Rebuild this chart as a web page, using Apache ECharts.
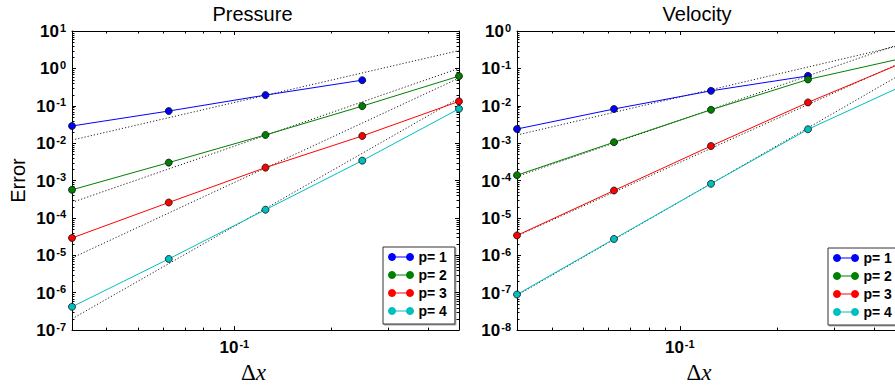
<!DOCTYPE html>
<html><head><meta charset="utf-8">
<script src="https://cdn.jsdelivr.net/npm/echarts@6/dist/echarts.min.js"></script>
<style>html,body{margin:0;padding:0;background:#fff;overflow:hidden;width:895px;height:389px}#c{width:912px;height:389px}</style>
</head><body><div id="c"></div>
<script>
// ---------- data ----------
const dx = [0.03125, 0.0625, 0.125, 0.25, 0.5];
const seriesNames = ['p= 1', 'p= 2', 'p= 3', 'p= 4'];
const colors = ['#0000ff', '#008000', '#ff0000', '#00bfbf'];

const pressureP1 = [0.0288, 0.0723, 0.193, 0.484, null];
const pressureP2 = [5.65e-4, 3.02e-3, 0.0166, 0.098, 0.62];
const pressureP3 = [2.91e-5, 2.59e-4, 2.22e-3, 0.0156, 0.131];
const pressureP4 = [4.2e-7, 8.0e-6, 1.66e-4, 3.41e-3, 0.083];
// reference (dotted) lines: value at smallest dx, value at largest dx
const pressureRefStart = [0.0121, 2.6e-4, 8.5e-6, 2.0e-7];
const pressureRefEnd   = [3.0, 1.0, 0.55, 0.16];

const velocityP1 = [2.39e-3, 8.2e-3, 0.0251, 0.063, null];
const velocityP2 = [1.39e-4, 1.06e-3, 7.8e-3, 0.0506, 0.193];
const velocityP3 = [3.41e-6, 5.41e-5, 8.4e-4, 0.0123, 0.15];
const velocityP4 = [8.95e-8, 2.74e-6, 8.2e-5, 2.35e-3, 0.0365];
const velocityRefStart = [1.65e-3, 1.28e-4, 3.3e-6, 8.5e-8];
const velocityRefEnd   = [0.44, 0.5, 0.16, 0.08];

// tick labels (exponents of 10)
const xTickExps = [-1];
const pressureYTickExps = [-7, -6, -5, -4, -3, -2, -1, 0, 1];
const velocityYTickExps = [-8, -7, -6, -5, -4, -3, -2, -1, 0];
const xMinorTicks = [0.04, 0.05, 0.06, 0.07, 0.08, 0.09, 0.2, 0.3, 0.4];

// ---------- helpers ----------
const FONT = 'Liberation Sans, Arial, sans-serif';
const SERIF = 'Liberation Serif, Times New Roman, serif';
const labelRich = {
  b: {fontSize: 17, fontWeight: 'bold', fontFamily: FONT, color: '#000', lineHeight: 18, verticalAlign: 'bottom'},
  s: {fontSize: 11, fontWeight: 'bold', fontFamily: FONT, color: '#000', lineHeight: 11, verticalAlign: 'top', padding: [0, 0, 0, 1]}
};
function expFormatter(list) {
  return function (v) {
    const e = Math.log10(v);
    const r = Math.round(e);
    if (Math.abs(e - r) > 1e-6 || list.indexOf(r) < 0) return '';
    return '{b|10}{s|' + r + '}';
  };
}
function minorY(exps) {
  const out = [];
  for (let i = 0; i < exps.length - 1; i++) {
    for (let m = 2; m <= 9; m++) out.push(m * Math.pow(10, exps[i]));
  }
  return out;
}
const frame = {show: true, lineStyle: {color: '#000', width: 1}};
function xAx(gi, pos, withLabel) {
  const a = {
    type: 'log', logBase: 10, gridIndex: gi, position: pos, min: dx[0], max: dx[dx.length - 1],
    axisLine: frame, splitLine: {show: false},
    axisTick: {show: true, inside: true, length: 4, lineStyle: {color: '#000'}},
    axisLabel: {show: withLabel, margin: 8, formatter: expFormatter(xTickExps), rich: labelRich, showMinLabel: false, showMaxLabel: false}
  };
  if (withLabel) {
    a.name = '{d|Δ}{i|x}';
    a.nameLocation = 'middle';
    a.nameGap = 29;
    a.nameTextStyle = {padding: [0, 24, 0, 0], rich: {
      d: {fontFamily: SERIF, fontSize: 23, color: '#000'},
      i: {fontFamily: SERIF, fontSize: 23, fontStyle: 'italic', color: '#000'}
    }};
  }
  return a;
}
function yAx(gi, pos, exps, withLabel, name) {
  const a = {
    type: 'log', logBase: 10, gridIndex: gi, position: pos,
    min: Math.pow(10, exps[0]), max: Math.pow(10, exps[exps.length - 1]),
    axisLine: frame, splitLine: {show: false},
    axisTick: {show: true, inside: true, length: 4, lineStyle: {color: '#000'}},
    axisLabel: {show: withLabel, margin: 6, formatter: expFormatter(exps), rich: labelRich}
  };
  if (name) {
    a.name = name; a.nameLocation = 'middle'; a.nameGap = 44; a.nameRotate = 90;
    a.nameTextStyle = {fontSize: 20, fontFamily: FONT, color: '#000'};
  }
  return a;
}
function lineSeries(name, color, vals, xi, yi) {
  const data = [];
  dx.forEach((x, i) => { if (vals[i] != null) data.push([x, vals[i]]); });
  return {
    name: name, type: 'line', xAxisIndex: xi, yAxisIndex: yi, data: data, z: 4,
    symbol: 'circle', symbolSize: 7, showSymbol: true,
    lineStyle: {color: color, width: 1},
    itemStyle: {color: color, borderColor: '#111', borderWidth: 0.8},
    emphasis: {disabled: true}, animation: false
  };
}
function refSeries(start, end, xi, yi, k) {
  return {
    name: 'ref' + k, type: 'line', xAxisIndex: xi, yAxisIndex: yi, z: 3, silent: true,
    data: [[dx[0], start], [dx[dx.length - 1], end]],
    symbol: 'none', lineStyle: {color: '#222', width: 1, type: [1.2, 2]},
    emphasis: {disabled: true}, animation: false
  };
}
function tickSeries(xi, yi, yExps) {
  const yMin = Math.pow(10, yExps[0]);
  const data = xMinorTicks.map(v => [v, yMin, 0]).concat(minorY(yExps).map(v => [dx[0], v, 1]));
  return {
    type: 'custom', xAxisIndex: xi, yAxisIndex: yi, silent: true, clip: false, z: 2,
    encode: {x: 0, y: 1}, data: data, animation: false,
    renderItem: function (params, api) {
      const cs = params.coordSys;
      const p = api.coord([api.value(0), api.value(1)]);
      const L = 2.5, st = {stroke: '#000', lineWidth: 1};
      if (api.value(2) === 0) {
        const x = Math.round(p[0]) + 0.5;
        return {type: 'group', children: [
          {type: 'line', shape: {x1: x, y1: cs.y + cs.height, x2: x, y2: cs.y + cs.height - L}, style: st},
          {type: 'line', shape: {x1: x, y1: cs.y, x2: x, y2: cs.y + L}, style: st}
        ]};
      }
      const y = Math.round(p[1]) + 0.5;
      return {type: 'group', children: [
        {type: 'line', shape: {x1: cs.x, y1: y, x2: cs.x + L, y2: y}, style: st},
        {type: 'line', shape: {x1: cs.x + cs.width, y1: y, x2: cs.x + cs.width - L, y2: y}, style: st}
      ]};
    }
  };
}

const pressure = [pressureP1, pressureP2, pressureP3, pressureP4];
const velocity = [velocityP1, velocityP2, velocityP3, velocityP4];
const series = [];
for (let k = 0; k < 4; k++) series.push(refSeries(pressureRefStart[k], pressureRefEnd[k], 0, 0, 'P' + k));
for (let k = 0; k < 4; k++) series.push(lineSeries(seriesNames[k], colors[k], pressure[k], 0, 0));
for (let k = 0; k < 4; k++) series.push(refSeries(velocityRefStart[k], velocityRefEnd[k], 2, 2, 'V' + k));
for (let k = 0; k < 4; k++) series.push(lineSeries(seriesNames[k], colors[k], velocity[k], 2, 2));
series.push(tickSeries(0, 0, pressureYTickExps));
series.push(tickSeries(2, 2, velocityYTickExps));

const iconPath = 'path://M0,3.5A3.5,3.5,0,1,1,7,3.5A3.5,3.5,0,1,1,0,3.5ZM7,3.5L18,3.5M18,3.5A3.5,3.5,0,1,1,25,3.5A3.5,3.5,0,1,1,18,3.5Z';
const legendData = seriesNames.map((n, i) => ({name: n, icon: iconPath,
  itemStyle: {color: colors[i], borderColor: colors[i], borderWidth: 1}}));
function legend(left, top) {
  return {
    data: legendData, left: left, top: top, orient: 'vertical', selectedMode: false, z: 10,
    itemWidth: 25, itemHeight: 7, itemGap: 4, itemTextGap: 10,
    padding: [3, 8, 6, 5], borderColor: '#333', borderWidth: 1, backgroundColor: '#fff',
    shadowColor: 'rgba(0,0,0,0.35)', shadowOffsetX: 1, shadowOffsetY: 1, shadowBlur: 1,
    textStyle: {fontSize: 14, fontWeight: 'bold', fontFamily: FONT, color: '#000', lineHeight: 14}
  };
}

const chart = echarts.init(document.getElementById('c'), null, {renderer: 'svg'});
chart.setOption({
  animation: false,
  backgroundColor: '#fff',
  grid: [
    {left: 72, top: 31, width: 387, height: 300},
    {left: 517, top: 31, width: 388, height: 300}
  ],
  xAxis: [xAx(0, 'bottom', true), xAx(0, 'top', false), xAx(1, 'bottom', true), xAx(1, 'top', false)],
  yAxis: [yAx(0, 'left', pressureYTickExps, true, 'Error'), yAx(0, 'right', pressureYTickExps, false),
          yAx(1, 'left', velocityYTickExps, true), yAx(1, 'right', velocityYTickExps, false)],
  legend: [legend(383, 247), legend(828, 248)],
  graphic: [
    {type: 'text', x: 252.5, y: 14, style: {text: 'Pressure', fontSize: 20, fontFamily: FONT, fill: '#000', align: 'center', verticalAlign: 'middle'}},
    {type: 'text', x: 697, y: 14, style: {text: 'Velocity', fontSize: 20, fontFamily: FONT, fill: '#000', align: 'center', verticalAlign: 'middle'}}
  ],
  series: series
});
</script></body></html>
